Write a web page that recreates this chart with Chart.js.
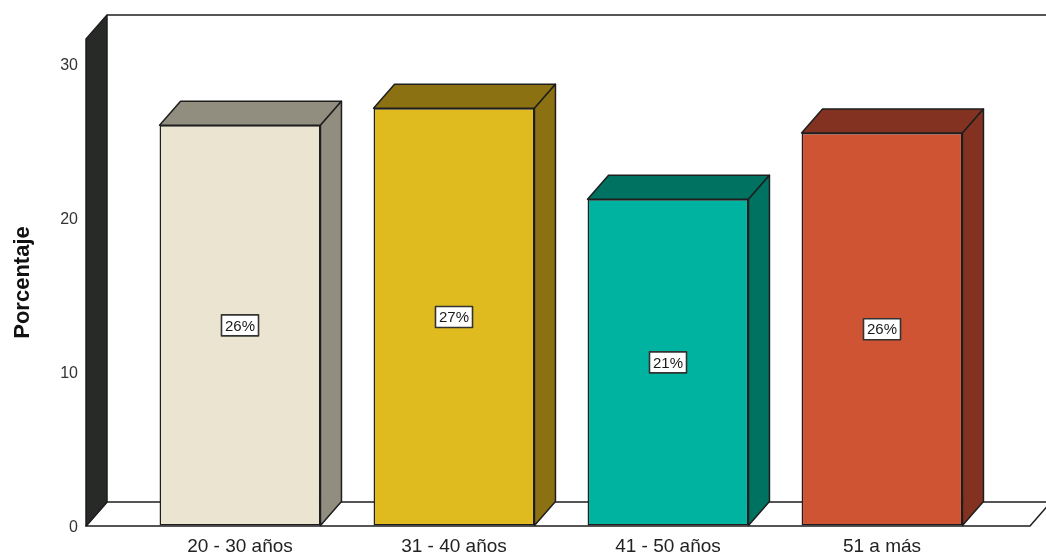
<!DOCTYPE html>
<html lang="es">
<head>
<meta charset="UTF-8">
<title>Porcentaje por grupo de edad</title>
<script src="https://cdn.jsdelivr.net/npm/chart.js"></script>
<style>
  html, body { margin: 0; padding: 0; background: #fff; overflow: hidden; }
  canvas { display: block; }
</style>
</head>
<body>
<canvas id="grafico" width="1046" height="553"></canvas>
<script>
  // datos
  const categorias = ["20 - 30 años", "31 - 40 años", "41 - 50 años", "51 a más"];
  const porcentajes = [26.0, 27.1, 21.2, 25.5];
  const etiquetas = ["26%", "27%", "21%", "26%"];
  const ticksY = [0, 10, 20, 30];

  const coloresFrente = ["#eae4d0", "#e0bb20", "#00b2a0", "#cf5434"];
  const coloresLado = ["#918e80", "#8c7112", "#007262", "#833222"];

  const DX = 21, DY = 24; // profundidad del efecto 3d
  const LINEA = "#1e1e1e";
  const FUENTE = "'Liberation Sans', Arial, sans-serif";

  function poligono(ctx, pts) {
    ctx.beginPath();
    ctx.moveTo(pts[0][0], pts[0][1]);
    for (let k = 1; k < pts.length; k++) ctx.lineTo(pts[k][0], pts[k][1]);
    ctx.closePath();
    ctx.fill();
    ctx.stroke();
  }

  // paredes, suelo, caras laterales y etiquetas
  const caja3d = {
    id: "caja3d",
    beforeDatasetsDraw(chart) {
      const { ctx, chartArea: a, scales: { y } } = chart;
      const base = y.getPixelForValue(0);
      const arriba = y.getPixelForValue(y.max);
      const izq = a.left - 47, der = a.right + 41;
      ctx.save();
      ctx.lineWidth = 1.5;
      ctx.strokeStyle = LINEA;
      ctx.lineJoin = "round";
      // borde superior de la pared del fondo
      ctx.beginPath();
      ctx.moveTo(izq + DX, arriba - DY);
      ctx.lineTo(chart.width + 10, arriba - DY);
      ctx.stroke();
      // suelo
      ctx.fillStyle = "#ffffff";
      poligono(ctx, [[izq, base], [der, base], [der + DX, base - DY], [izq + DX, base - DY]]);
      // pared izquierda
      ctx.fillStyle = "#282a28";
      poligono(ctx, [[izq, base], [izq, arriba], [izq + DX, arriba - DY], [izq + DX, base - DY]]);
      ctx.restore();
    },
    afterDatasetsDraw(chart) {
      const { ctx } = chart;
      const meta = chart.getDatasetMeta(0);
      ctx.save();
      ctx.lineWidth = 1.5;
      ctx.strokeStyle = LINEA;
      ctx.lineJoin = "round";
      meta.data.forEach((bar, i) => {
        const { x, y, base, width } = bar.getProps(["x", "y", "base", "width"], true);
        const x0 = x - width / 2, x1 = x + width / 2;
        ctx.fillStyle = coloresLado[i];
        poligono(ctx, [[x0, y], [x0 + DX, y - DY], [x1 + DX, y - DY], [x1, y]]);
        poligono(ctx, [[x1, y], [x1 + DX, y - DY], [x1 + DX, base - DY], [x1, base]]);
      });
      // etiquetas de porcentaje
      ctx.font = "15px " + FUENTE;
      ctx.textAlign = "center";
      ctx.textBaseline = "middle";
      meta.data.forEach((bar, i) => {
        const { x, y, base } = bar.getProps(["x", "y", "base"], true);
        const cy = (y + base) / 2;
        const w = ctx.measureText(etiquetas[i]).width + 7, h = 21;
        ctx.fillStyle = "#ffffff";
        ctx.strokeStyle = "#333";
        ctx.lineWidth = 1.6;
        ctx.fillRect(x - w / 2, cy - h / 2, w, h);
        ctx.strokeRect(x - w / 2, cy - h / 2, w, h);
        ctx.fillStyle = "#1a1a1a";
        ctx.fillText(etiquetas[i], x, cy + 1);
      });
      ctx.restore();
    }
  };

  new Chart(document.getElementById("grafico"), {
    type: "bar",
    data: {
      labels: categorias,
      datasets: [{
        data: porcentajes,
        backgroundColor: coloresFrente,
        borderColor: LINEA,
        borderWidth: 1.5,
        borderSkipped: false,
        categoryPercentage: 1,
        barPercentage: 0.752
      }]
    },
    options: {
      responsive: false,
      animation: false,
      layout: { padding: { left: 8, right: 57, top: 39, bottom: 0 } },
      plugins: { legend: { display: false }, tooltip: { enabled: false } },
      scales: {
        x: {
          grid: { display: false, drawTicks: false },
          border: { display: false },
          ticks: {
            padding: 9,
            color: "#222",
            font: { family: FUENTE, size: 19 }
          },
          afterFit(axis) { axis.height = 27; }
        },
        y: {
          min: 0,
          max: 31.6,
          grid: {
            display: true,
            drawOnChartArea: false,
            drawTicks: true,
            tickLength: 47,
            tickColor: "rgba(0,0,0,0)",
            color: "rgba(0,0,0,0)"
          },
          border: { display: false },
          afterBuildTicks(axis) { axis.ticks = ticksY.map(v => ({ value: v })); },
          ticks: {
            padding: 8,
            labelOffset: 2,
            color: "#333",
            font: { family: FUENTE, size: 16 }
          },
          title: {
            display: true,
            text: "Porcentaje",
            color: "#111",
            padding: { top: 2, bottom: 0 },
            font: { family: FUENTE, size: 22, weight: "bold" }
          },
          afterFit(axis) { axis.width = 125; }
        }
      }
    },
    plugins: [caja3d]
  });
</script>
</body>
</html>
